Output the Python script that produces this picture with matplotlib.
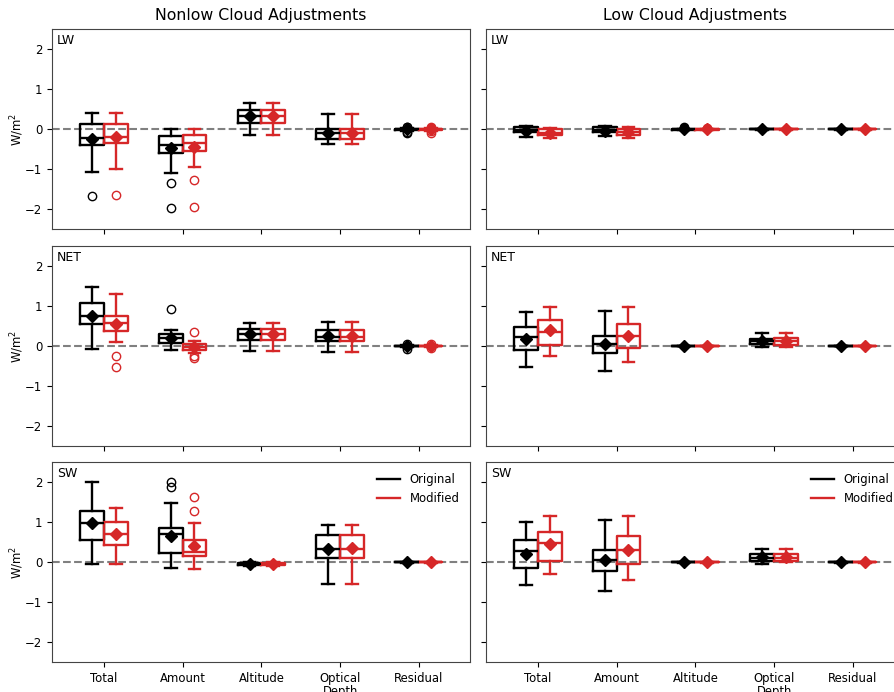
import matplotlib
matplotlib.use('Agg')
import matplotlib.pyplot as plt
from matplotlib.lines import Line2D

categories = ['Total', 'Amount', 'Altitude', 'Optical\nDepth', 'Residual']
col_titles = ['Nonlow Cloud Adjustments', 'Low Cloud Adjustments']
row_names = ['LW', 'NET', 'SW']

# each row: whisker low, q1, median, q3, whisker high, mean
nonlow_lw_orig = [[-1.06, -0.39, -0.22, 0.14, 0.40, -0.23],
                  [-1.08, -0.60, -0.39, -0.16, 0.01, -0.47],
                  [-0.14, 0.17, 0.34, 0.48, 0.65, 0.34],
                  [-0.37, -0.25, -0.10, 0.02, 0.38, -0.10],
                  [-0.03, -0.01, 0.00, 0.02, 0.03, 0.01]]
nonlow_lw_orig_fliers = [[-1.66], [-1.33, -1.96], [], [], [0.07, 0.05, -0.06, -0.10]]
nonlow_lw_mod = [[-0.99, -0.33, -0.20, 0.14, 0.40, -0.18],
                 [-0.93, -0.53, -0.35, -0.14, 0.02, -0.43],
                 [-0.14, 0.17, 0.34, 0.48, 0.65, 0.34],
                 [-0.37, -0.25, -0.10, 0.02, 0.38, -0.09],
                 [-0.03, -0.01, 0.00, 0.02, 0.03, 0.01]]
nonlow_lw_mod_fliers = [[-1.63], [-1.27, -1.93], [], [], [0.07, 0.04, -0.05, -0.08]]

nonlow_net_orig = [[-0.08, 0.54, 0.75, 1.08, 1.48, 0.75],
                   [-0.11, 0.08, 0.19, 0.29, 0.40, 0.21],
                   [-0.12, 0.15, 0.30, 0.43, 0.57, 0.31],
                   [-0.16, 0.13, 0.23, 0.40, 0.61, 0.26],
                   [-0.02, -0.01, 0.00, 0.01, 0.02, 0.01]]
nonlow_net_orig_fliers = [[], [0.92], [], [], [0.05, -0.08]]
nonlow_net_mod = [[0.09, 0.37, 0.57, 0.75, 1.29, 0.54],
                  [-0.18, -0.10, -0.03, 0.04, 0.13, -0.02],
                  [-0.12, 0.15, 0.30, 0.43, 0.57, 0.31],
                  [-0.16, 0.13, 0.23, 0.40, 0.61, 0.26],
                  [-0.02, -0.01, 0.00, 0.01, 0.02, 0.01]]
nonlow_net_mod_fliers = [[-0.25, -0.53], [0.34, -0.24, -0.31], [], [], [0.05, -0.06]]

nonlow_sw_orig = [[-0.03, 0.56, 0.99, 1.28, 2.01, 0.99],
                  [-0.13, 0.24, 0.70, 0.85, 1.49, 0.67],
                  [-0.08, -0.06, -0.04, -0.02, 0.00, -0.05],
                  [-0.54, 0.10, 0.34, 0.68, 0.93, 0.34],
                  [-0.01, 0.00, 0.00, 0.00, 0.01, 0.00]]
nonlow_sw_orig_fliers = [[], [2.01, 1.88], [], [], []]
nonlow_sw_mod = [[-0.03, 0.43, 0.70, 1.00, 1.36, 0.70],
                 [-0.17, 0.16, 0.27, 0.55, 0.99, 0.41],
                 [-0.08, -0.06, -0.04, -0.02, 0.00, -0.05],
                 [-0.54, 0.10, 0.34, 0.69, 0.93, 0.35],
                 [-0.01, 0.00, 0.00, 0.00, 0.01, 0.00]]
nonlow_sw_mod_fliers = [[], [1.62, 1.27], [], [], []]

low_lw_orig = [[-0.18, -0.07, -0.02, 0.05, 0.08, -0.03],
               [-0.17, -0.07, -0.02, 0.05, 0.08, -0.03],
               [-0.02, -0.01, 0.00, 0.01, 0.02, 0.01],
               [-0.01, 0.00, 0.00, 0.00, 0.01, 0.00],
               [-0.01, 0.00, 0.00, 0.00, 0.01, 0.00]]
low_lw_orig_fliers = [[], [], [0.05, 0.04], [], []]
low_lw_mod = [[-0.22, -0.14, -0.08, 0.02, 0.04, -0.08],
              [-0.22, -0.13, -0.06, 0.02, 0.05, -0.07],
              [-0.02, -0.01, 0.00, 0.01, 0.02, 0.01],
              [-0.01, 0.00, 0.00, 0.00, 0.01, 0.00],
              [-0.01, 0.00, 0.00, 0.00, 0.01, 0.00]]
low_lw_mod_fliers = [[], [], [0.04], [], []]

low_net_orig = [[-0.52, -0.11, 0.23, 0.47, 0.85, 0.17],
                [-0.63, -0.18, 0.04, 0.26, 0.88, 0.04],
                [-0.01, 0.00, 0.00, 0.00, 0.01, 0.00],
                [-0.03, 0.05, 0.12, 0.18, 0.32, 0.12],
                [-0.01, 0.00, 0.00, 0.00, 0.01, 0.00]]
low_net_orig_fliers = [[], [], [], [], []]
low_net_mod = [[-0.25, 0.03, 0.36, 0.64, 0.97, 0.39],
               [-0.39, -0.05, 0.26, 0.55, 0.98, 0.26],
               [-0.01, 0.00, 0.00, 0.00, 0.01, 0.00],
               [-0.02, 0.03, 0.12, 0.20, 0.32, 0.12],
               [-0.01, 0.00, 0.00, 0.00, 0.01, 0.00]]
low_net_mod_fliers = [[], [], [], [], []]

low_sw_orig = [[-0.57, -0.13, 0.28, 0.55, 1.02, 0.20],
               [-0.71, -0.21, 0.06, 0.30, 1.05, 0.06],
               [-0.01, 0.00, 0.00, 0.00, 0.01, 0.00],
               [-0.04, 0.04, 0.12, 0.20, 0.33, 0.14],
               [-0.01, 0.00, 0.00, 0.00, 0.01, 0.00]]
low_sw_orig_fliers = [[], [], [], [], []]
low_sw_mod = [[-0.29, 0.03, 0.48, 0.77, 1.17, 0.45],
              [-0.43, -0.03, 0.30, 0.67, 1.17, 0.30],
              [-0.01, 0.00, 0.00, 0.00, 0.01, 0.00],
              [0.00, 0.04, 0.12, 0.22, 0.33, 0.14],
              [-0.01, 0.00, 0.00, 0.00, 0.01, 0.00]]
low_sw_mod_fliers = [[], [], [], [], []]

panels = [
    [(nonlow_lw_orig, nonlow_lw_orig_fliers, nonlow_lw_mod, nonlow_lw_mod_fliers),
     (low_lw_orig, low_lw_orig_fliers, low_lw_mod, low_lw_mod_fliers)],
    [(nonlow_net_orig, nonlow_net_orig_fliers, nonlow_net_mod, nonlow_net_mod_fliers),
     (low_net_orig, low_net_orig_fliers, low_net_mod, low_net_mod_fliers)],
    [(nonlow_sw_orig, nonlow_sw_orig_fliers, nonlow_sw_mod, nonlow_sw_mod_fliers),
     (low_sw_orig, low_sw_orig_fliers, low_sw_mod, low_sw_mod_fliers)],
]


def make_stats(rows, fliers):
    out = []
    for r, f in zip(rows, fliers):
        out.append({'whislo': r[0], 'q1': r[1], 'med': r[2], 'q3': r[3],
                    'whishi': r[4], 'mean': r[5], 'fliers': f})
    return out


def draw_boxes(ax, stats, positions, color):
    lw = 1.7
    ax.bxp(stats, positions=positions, widths=0.3, showmeans=True,
           manage_ticks=False,
           boxprops=dict(color=color, linewidth=lw),
           whiskerprops=dict(color=color, linewidth=lw),
           capprops=dict(color=color, linewidth=lw),
           medianprops=dict(color=color, linewidth=lw),
           meanprops=dict(marker='D', markerfacecolor=color, markeredgecolor=color,
                          markersize=6.5),
           flierprops=dict(marker='o', markerfacecolor='none', markeredgecolor=color,
                           markersize=6))


fig = plt.figure(figsize=(8.94, 6.92), dpi=100)
W, H = 894.0, 692.0
ax_w = 418 / W
ax_h = 200 / H
lefts = [52 / W, 486 / W]
tops = [29.3, 246.0, 462.3]

x = list(range(1, len(categories) + 1))
red = '#d62728'

for i in range(3):
    for j in range(2):
        ax = fig.add_axes([lefts[j], 1 - (tops[i] + 200) / H, ax_w, ax_h])
        orig, orig_f, mod, mod_f = panels[i][j]
        ax.axhline(0, color='grey', ls='--', lw=1.5, zorder=0)
        draw_boxes(ax, make_stats(orig, orig_f), [p - 0.15 for p in x], 'k')
        draw_boxes(ax, make_stats(mod, mod_f), [p + 0.15 for p in x], red)
        ax.set_xlim(0.34, 5.65)
        ax.set_ylim(-2.5, 2.5)
        ax.set_yticks([-2, -1, 0, 1, 2])
        ax.set_xticks(x)
        ax.tick_params(labelsize=8.4)
        for sp in ax.spines.values():
            sp.set_color('#444444')
        ax.text(0.012, 0.975, row_names[i], transform=ax.transAxes,
                ha='left', va='top', fontsize=9)
        if j == 0:
            ax.set_ylabel('W/m$^2$', fontsize=8.4, labelpad=-1)
        else:
            ax.set_yticklabels([])
        if i == 2:
            ax.set_xticklabels(categories, linespacing=0.95)
            handles = [Line2D([], [], color='k', lw=1.7),
                       Line2D([], [], color=red, lw=1.7)]
            ax.legend(handles, ['Original', 'Modified'], loc='upper right',
                      frameon=False, fontsize=8.4)
        else:
            ax.set_xticklabels([])
        if i == 0:
            ax.set_title(col_titles[j], fontsize=11.3, pad=7)

plt.savefig('out.png', dpi=100)
plt.close()
